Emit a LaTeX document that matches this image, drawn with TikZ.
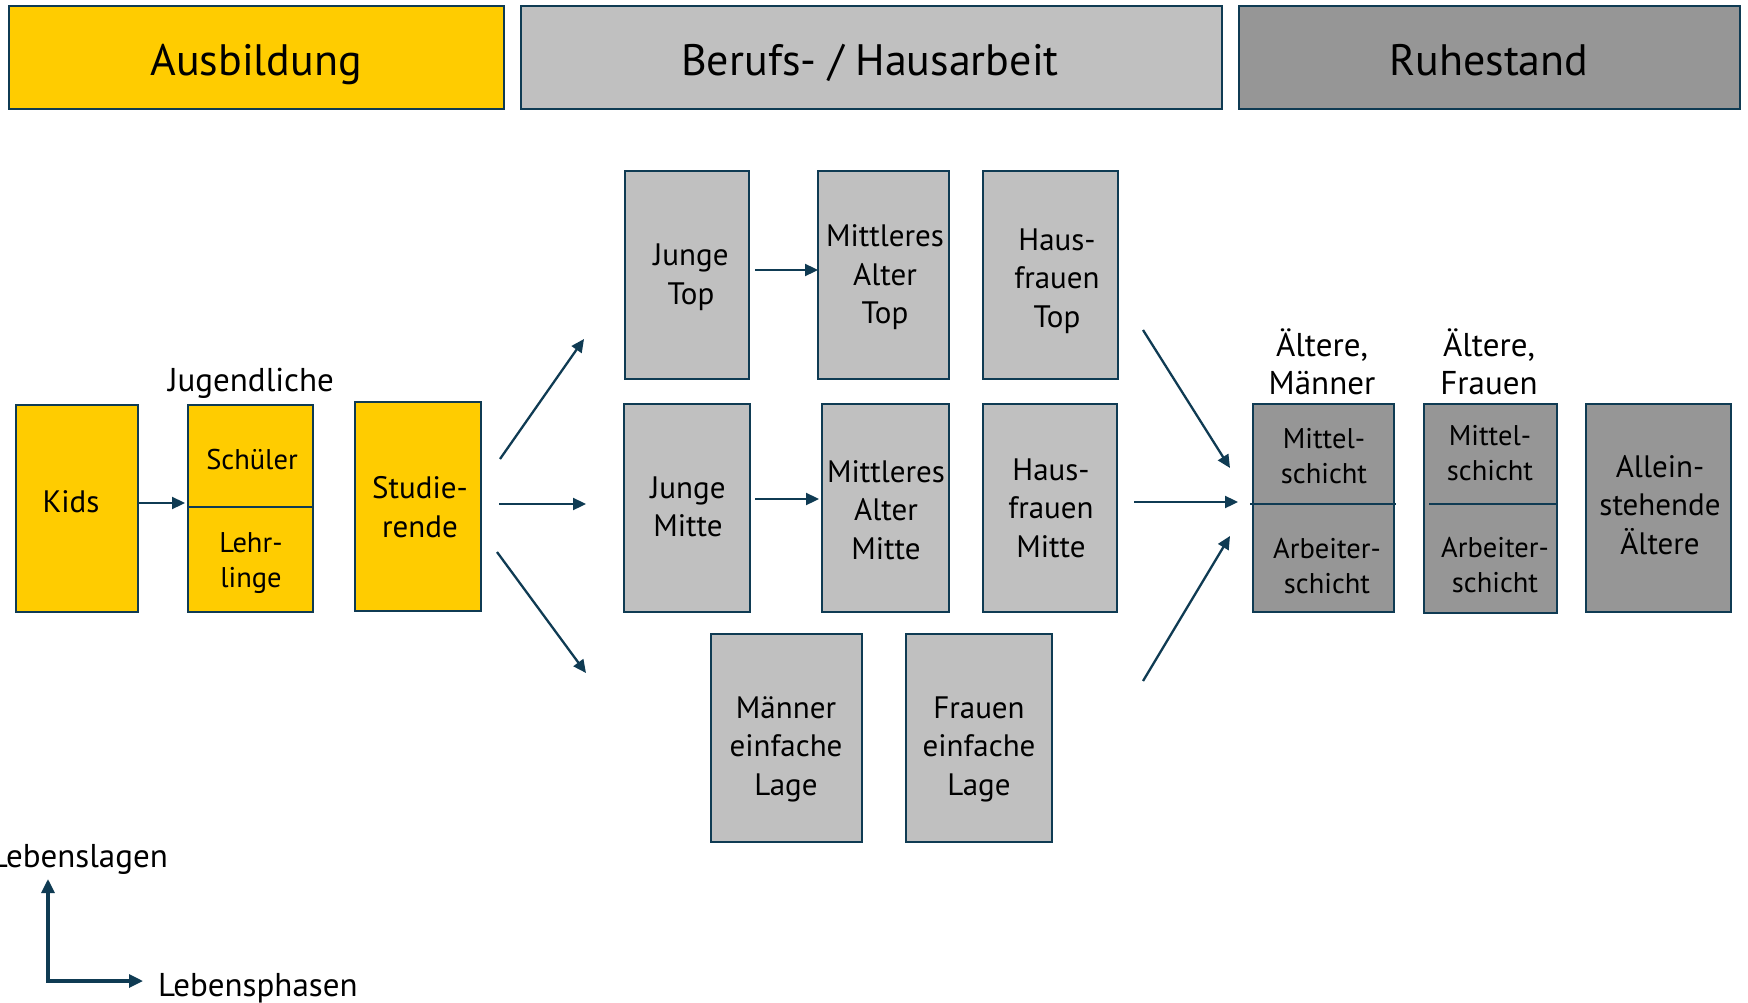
\documentclass[tikz,border=0pt]{standalone}
\usepackage{fontspec}
\setmainfont{PT Sans}
\usetikzlibrary{arrows.meta}
\definecolor{yel}{HTML}{FFCC00}
\definecolor{lgr}{HTML}{C0C0C0}
\definecolor{dgr}{HTML}{969696}
\definecolor{edge}{HTML}{0F3B53}
\tikzset{
  boxbase/.style={draw=edge, line width=2.5pt, inner sep=0pt, rectangle},
  ybox/.style={boxbase, fill=yel},
  gbox/.style={boxbase, fill=lgr},
  dbox/.style={boxbase, fill=dgr},
  hdr/.style={font=\fontsize{44}{52}\selectfont, inner sep=0pt, anchor=base},
  body/.style={font=\fontsize{31}{38.5}\selectfont, align=center, inner sep=0pt},
  small/.style={font=\fontsize{28.5}{35.7}\selectfont, align=center, inner sep=0pt},
  lbl/.style={font=\fontsize{33}{38}\selectfont, align=center, inner sep=0pt},
  arr/.style={draw=edge, line width=2.3pt, -{Triangle[length=13pt,width=12pt]}},
  axarr/.style={draw=edge, line width=3.2pt, {Triangle[length=14pt,width=13pt]}-{Triangle[length=14pt,width=13pt]}},
  divline/.style={draw=edge, line width=2pt}
}
\begin{document}
\begin{tikzpicture}[x=1pt,y=-1pt]
\useasboundingbox (0,0) rectangle (1748,1003);
% headers
\node[ybox, minimum width=495pt, minimum height=103pt] (hA) at (256.5,57.5) {};
\node[gbox, minimum width=701pt, minimum height=103pt] (hB) at (871.5,57.5) {};
\node[dbox, minimum width=501pt, minimum height=103pt] (hR) at (1489.5,57.5) {};
\node[hdr] (tA) at (256,76) {Ausbildung};
\node[hdr] (tB) at (870,76) {Berufs- / Hausarbeit};
\node[hdr] (tR) at (1489,76) {Ruhestand};
% Ausbildung boxes
\node[ybox, minimum width=122pt, minimum height=207pt] (kids) at (77,508.5) {};
\node[body] (tkids) at (71,502) {Kids};
\node[ybox, minimum width=125pt, minimum height=207pt] (jug) at (250.5,508.5) {};
\coordinate (jdl) at (188,507);
\coordinate (jdr) at (313,507);
\draw[divline] (jdl) -- (jdr);
\node[small] (tschu) at (252,460) {Schüler};
\node[small] (tlehr) at (251,563) {Lehr-\\linge};
\node[lbl] (tjug) at (251,383) {Jugendliche};
\node[ybox, minimum width=126pt, minimum height=209pt] (stud) at (418,506.5) {};
\node[body] (tstud) at (420,507) {Studie-\\rende};
% Berufs boxes
\node[gbox, minimum width=124pt, minimum height=208pt] (jt) at (687,275) {};
\node[body] (tjt) at (691,277) {Junge\\Top};
\node[gbox, minimum width=131pt, minimum height=208pt] (mat) at (883.5,275) {};
\node[body] (tmat) at (885,277.5) {Mittleres\\Alter\\Top};
\node[gbox, minimum width=135pt, minimum height=208pt] (hft) at (1050.5,275) {};
\node[body] (thft) at (1057,281) {Haus-\\frauen\\Top};
\node[gbox, minimum width=126pt, minimum height=208pt] (jm) at (687,508) {};
\node[body] (tjm) at (688,507) {Junge\\Mitte};
\node[gbox, minimum width=127pt, minimum height=208pt] (mam) at (885.5,508) {};
\node[body] (tmam) at (886,510) {Mittleres\\Alter\\Mitte};
\node[gbox, minimum width=134pt, minimum height=208pt] (hfm) at (1050,508) {};
\node[body] (thfm) at (1051,508) {Haus-\\frauen\\Mitte};
\node[gbox, minimum width=151pt, minimum height=208pt] (mel) at (786.5,738) {};
\node[body] (tmel) at (786,749) {Männer\\einfache\\Lage};
\node[gbox, minimum width=146pt, minimum height=208pt] (fel) at (979,738) {};
\node[body] (tfel) at (979,749) {Frauen\\einfache\\Lage};
% Ruhestand boxes
\node[dbox, minimum width=141pt, minimum height=208pt] (am) at (1323.5,508) {};
\coordinate (amdl) at (1250,504);
\coordinate (amdr) at (1396,504);
\draw[divline] (amdl) -- (amdr);
\node[small] (tam1) at (1324,456) {Mittel-\\schicht};
\node[small] (tam2) at (1327,566) {Arbeiter-\\schicht};
\node[lbl] (lam) at (1322,362) {Ältere,\\Männer};
\node[dbox, minimum width=133pt, minimum height=209pt] (af) at (1490.5,508.5) {};
\coordinate (afdl) at (1429,504);
\coordinate (afdr) at (1557,504);
\draw[divline] (afdl) -- (afdr);
\node[small] (taf1) at (1490,453) {Mittel-\\schicht};
\node[small] (taf2) at (1495,565) {Arbeiter-\\schicht};
\node[lbl] (laf) at (1489,362) {Ältere,\\Frauen};
\node[dbox, minimum width=145pt, minimum height=208pt] (al) at (1658.5,508) {};
\node[body] (tal) at (1660,505) {Allein-\\stehende\\Ältere};
% arrows
\coordinate (k1) at (139,503);
\coordinate (k2) at (185,503);
\draw[arr] (k1) -- (k2);
\coordinate (s1a) at (500,459);
\coordinate (s1b) at (584,339);
\coordinate (s2a) at (499,504);
\coordinate (s2b) at (586,504);
\coordinate (s3a) at (497,552);
\coordinate (s3b) at (586,673);
\draw[arr] (s1a) -- (s1b);
\draw[arr] (s2a) -- (s2b);
\draw[arr] (s3a) -- (s3b);
\coordinate (t1a) at (755,270);
\coordinate (t1b) at (818,270);
\draw[arr] (t1a) -- (t1b);
\coordinate (t2a) at (755,499);
\coordinate (t2b) at (819,499);
\draw[arr] (t2a) -- (t2b);
\coordinate (r1a) at (1143,330);
\coordinate (r1b) at (1230,468);
\coordinate (r2a) at (1134,502);
\coordinate (r2b) at (1238,502);
\coordinate (r3a) at (1143,681);
\coordinate (r3b) at (1230,536);
\draw[arr] (r1a) -- (r1b);
\draw[arr] (r2a) -- (r2b);
\draw[arr] (r3a) -- (r3b);
% axes
\coordinate (ax0) at (48,981);
\coordinate (ax1) at (48,879);
\coordinate (ax2) at (143,981);
\draw[axarr] (ax1) -- (ax0) -- (ax2);
\node[lbl, anchor=east] (llagen) at (168,859) {Lebenslagen};
\node[lbl, anchor=west] (lphasen) at (158,988) {Lebensphasen};
\end{tikzpicture}
\end{document}
